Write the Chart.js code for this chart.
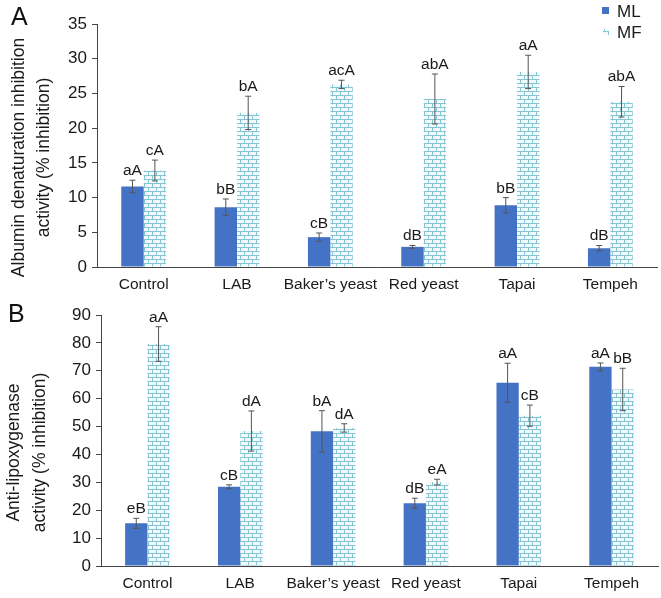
<!DOCTYPE html>
<html>
<head>
<meta charset="utf-8">
<script src="https://cdn.jsdelivr.net/npm/chart.js@4.4.1/dist/chart.umd.min.js"></script>
<style>
  body { margin: 0; background: #fff; width: 661px; height: 598px; position: relative; overflow: hidden;
         font-family: "Liberation Sans", Arial, sans-serif; }
  .panel { position: absolute; left: 0; width: 661px; height: 300px; }
  .tag { position: absolute; font-size: 25px; color: #111; line-height: 1; }
</style>
</head>
<body>
<div class="panel" style="top:0"><canvas id="chartA" width="661" height="300"></canvas></div>
<div class="panel" style="top:298px"><canvas id="chartB" width="661" height="300"></canvas></div>
<div class="tag" style="left:11px;top:4px">A</div>
<div class="tag" style="left:8px;top:301px">B</div>

<script>
/* ---- data ---- */
const categories = ['Control', 'LAB', 'Baker\u2019s yeast', 'Red yeast', 'Tapai', 'Tempeh'];

// panel A: albumin denaturation inhibition (%)
const albuminML        = [11.6, 8.6, 4.3, 2.9, 8.9, 2.7];
const albuminMLErr     = [0.9, 1.2, 0.6, 0.2, 1.1, 0.4];
const albuminMLLetters = ['aA', 'bB', 'cB', 'dB', 'bB', 'dB'];
const albuminMF        = [13.9, 22.2, 26.3, 24.2, 28.1, 23.8];
const albuminMFErr     = [1.5, 2.4, 0.6, 3.6, 2.4, 2.2];
const albuminMFLetters = ['cA', 'bA', 'acA', 'abA', 'aA', 'abA'];

// panel B: anti-lipoxygenase activity (%)
const lipoML        = [15.3, 28.4, 48.3, 22.5, 65.7, 71.4];
const lipoMLErr     = [1.8, 0.7, 7.4, 1.8, 7.0, 1.4];
const lipoMLLetters = ['eB', 'cB', 'bA', 'dB', 'aA', 'aA'];
const lipoMF        = [79.6, 48.4, 49.5, 30.1, 53.9, 63.3];
const lipoMFErr     = [6.2, 7.2, 1.5, 1.0, 3.8, 7.6];
const lipoMFLetters = ['aA', 'dA', 'dA', 'eA', 'cB', 'bB'];

const BLUE = '#4472c4';
const TEXT = '#1a1a1a';
const AXIS = '#444';
const FONT = '"Liberation Sans", Arial, sans-serif';

Chart.defaults.font.family = FONT;
Chart.defaults.color = TEXT;

/* brick hatch used for the MF bars */
function brickPattern() {
  const c = document.createElement('canvas');
  c.width = 8; c.height = 8;
  const g = c.getContext('2d');
  g.fillStyle = '#f3fafc';
  g.fillRect(0, 0, 8, 8);
  g.fillStyle = '#86c6d4';
  g.fillRect(0, 3, 8, 1);
  g.fillRect(0, 7, 8, 1);
  g.fillRect(0, 0, 1, 3);
  g.fillRect(4, 4, 1, 3);
  return g.createPattern(c, 'repeat');
}
const MF_FILL = brickPattern();

/* error bars + significance letters, placed through the y scale */
const errorBars = {
  id: 'errorBars',
  afterDatasetsDraw(chart) {
    const { ctx, scales: { y } } = chart;
    ctx.save();
    chart.data.datasets.forEach((ds, i) => {
      chart.getDatasetMeta(i).data.forEach((bar, j) => {
        const v = ds.data[j], e = ds.errors[j];
        const top = y.getPixelForValue(v + e);
        const bot = y.getPixelForValue(v - e);
        ctx.strokeStyle = '#555';
        ctx.lineWidth = 1;
        ctx.beginPath();
        ctx.moveTo(bar.x, top); ctx.lineTo(bar.x, bot);
        ctx.moveTo(bar.x - 3, top); ctx.lineTo(bar.x + 3, top);
        ctx.moveTo(bar.x - 3, bot); ctx.lineTo(bar.x + 3, bot);
        ctx.stroke();
        ctx.fillStyle = TEXT;
        ctx.font = '15.5px ' + FONT;
        ctx.textAlign = 'center';
        ctx.textBaseline = 'alphabetic';
        ctx.fillText(ds.letters[j], bar.x, top - 5);
      });
    });
    ctx.restore();
  }
};

/* rotated two-line y title, sitting a little below the axis middle like the original */
const sideTitle = {
  id: 'sideTitle',
  afterDraw(chart) {
    const o = chart.options.plugins.sideTitle;
    const { ctx, chartArea } = chart;
    const cy = (chartArea.top + chartArea.bottom) / 2 + o.shift;
    ctx.save();
    ctx.fillStyle = TEXT;
    ctx.font = '17.5px ' + FONT;
    ctx.textAlign = 'center';
    ctx.textBaseline = 'middle';
    o.lines.forEach((line, k) => {
      ctx.save();
      ctx.translate(o.x[k], cy);
      ctx.rotate(-Math.PI / 2);
      ctx.fillText(line, 0, 0);
      ctx.restore();
    });
    ctx.restore();
  }
};

/* small legend in the top right of panel A */
const cornerLegend = {
  id: 'cornerLegend',
  afterDraw(chart) {
    if (!chart.options.plugins.cornerLegend.show) return;
    const { ctx } = chart;
    ctx.save();
    ctx.fillStyle = BLUE;
    ctx.fillRect(602, 7, 7, 7);
    ctx.fillStyle = MF_FILL;
    ctx.fillRect(603, 29, 6, 6);
    ctx.fillStyle = TEXT;
    ctx.font = '17px ' + FONT;
    ctx.textAlign = 'left';
    ctx.textBaseline = 'middle';
    ctx.fillText('ML', 617, 12);
    ctx.fillText('MF', 617, 33);
    ctx.restore();
  }
};

function makeChart(id, cfg) {
  return new Chart(document.getElementById(id), {
    type: 'bar',
    data: {
      labels: categories,
      datasets: [
        { label: 'ML', data: cfg.ml, errors: cfg.mlErr, letters: cfg.mlLetters,
          backgroundColor: BLUE, borderWidth: 0 },
        { label: 'MF', data: cfg.mf, errors: cfg.mfErr, letters: cfg.mfLetters,
          backgroundColor: MF_FILL, borderWidth: 0 },
      ],
    },
    options: {
      responsive: false,
      animation: false,
      devicePixelRatio: 1,
      categoryPercentage: 0.48,
      barPercentage: 1.0,
      layout: { padding: { top: cfg.padTop, right: cfg.padRight, left: 0, bottom: 0 } },
      plugins: {
        legend: { display: false },
        tooltip: { enabled: false },
        cornerLegend: { show: cfg.legend },
        sideTitle: { lines: cfg.title, x: cfg.titleX, shift: 12 },
      },
      scales: {
        x: {
          grid: { display: false, drawTicks: false },
          border: { display: true, color: AXIS, width: 1 },
          ticks: { font: { size: 15.5 }, color: TEXT, padding: 8, maxRotation: 0, autoSkip: false },
          afterFit: s => { s.height = cfg.xHeight; },
        },
        y: {
          min: 0, max: cfg.max,
          grid: { drawOnChartArea: false, drawTicks: true, tickLength: 5, color: AXIS },
          border: { display: true, color: AXIS, width: 1 },
          ticks: { stepSize: cfg.step, font: { size: 17 }, color: TEXT, padding: 5 },
          afterFit: s => { s.width = cfg.yWidth; },
        },
      },
    },
    plugins: [errorBars, sideTitle, cornerLegend],
  });
}

makeChart('chartA', {
  ml: albuminML, mlErr: albuminMLErr, mlLetters: albuminMLLetters,
  mf: albuminMF, mfErr: albuminMFErr, mfLetters: albuminMFLetters,
  max: 35, step: 5, padTop: 24, padRight: 4, xHeight: 33, yWidth: 97,
  title: ['Albumin denaturation inhibition', 'activity (% inhibition)'], titleX: [19, 44],
  legend: true,
});

makeChart('chartB', {
  ml: lipoML, mlErr: lipoMLErr, mlLetters: lipoMLLetters,
  mf: lipoMF, mfErr: lipoMFErr, mfLetters: lipoMFLetters,
  max: 90, step: 10, padTop: 17, padRight: 3, xHeight: 32, yWidth: 101,
  title: ['Anti-lipoxygenase', 'activity (% inhibition)'], titleX: [14, 40],
  legend: false,
});
</script>
</body>
</html>
